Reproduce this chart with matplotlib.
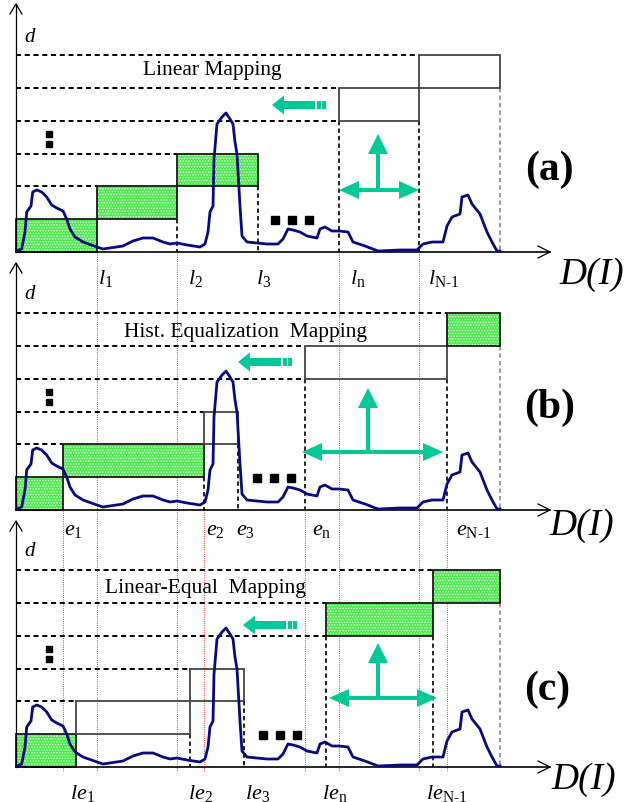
import matplotlib
matplotlib.use("Agg")
import matplotlib.pyplot as plt
from matplotlib.patches import Rectangle, FancyArrow

plt.rcParams['font.family'] = ['Liberation Serif', 'DejaVu Serif']
plt.rcParams['mathtext.fontset'] = 'custom'
plt.rcParams['mathtext.rm'] = 'Liberation Serif'
plt.rcParams['mathtext.it'] = 'Liberation Serif:italic'
plt.rcParams['mathtext.bf'] = 'Liberation Serif:bold'
plt.rcParams['hatch.linewidth'] = 0.6

# histogram curve: grey level position / height above the axis (same in all panels)
curve_x = [16.7, 21.7, 25, 26.7, 31, 32.7, 36.7, 41.7, 46.7, 51.7, 56.7, 63, 66.7, 70, 75, 83,
           97, 103, 123, 133, 143, 153, 163, 170, 177, 187, 200, 205, 208, 210, 213, 214,
           217, 222, 226, 230, 233, 235, 237, 240, 242, 247, 267, 278, 283, 288, 293, 300,
           307, 317, 320, 325, 332, 339, 348, 353, 365, 378, 400, 417, 423, 432, 443, 447,
           452, 460, 462, 468, 472, 480, 487, 492, 497, 500]
curve_h = [1, 3, 20, 40, 46, 60, 62, 60, 55, 47, 44, 41, 33, 23, 15, 10,
           5, 3, 6, 11, 14, 14, 10, 8, 9, 7, 5, 8, 20, 40, 46, 93,
           128, 135, 139, 133, 128, 110, 98, 46, 16, 10, 8, 8, 13, 23, 22, 20,
           16, 14, 23, 25, 21, 21, 20, 10, 6, 1, 2, 2, 8, 10, 10, 26,
           35, 38, 55, 57, 48, 38, 20, 10, 1, 1]

titles = ["Linear Mapping", "Hist. Equalization  Mapping", "Linear-Equal  Mapping"]
tags = ["(a)", "(b)", "(c)"]

# interval boundaries on the D(I) axis for each mapping
bounds_a = [16, 97, 177, 258, 339, 419, 500]
bounds_b = [16, 63, 204, 238, 305, 447, 500]
bounds_c = [16, 76, 190, 244, 326, 433, 500]
# G = green (active) block, O = empty block, None = skipped (ellipsis)
kinds_a = ["G", "G", "G", None, "O", "O"]
kinds_b = ["G", "G", "O", None, "O", "G"]
kinds_c = ["G", "O", "O", None, "G", "G"]

# axis labels
lab_prefix = ["l", "e", "le"]
lab_subs = ["1", "2", "3", "n", "N-1"]

# red dotted guides (from l_i and e_i)
red_a = [97, 177, 339, 419]
red_b = [63, 204, 305, 447]

# ---- layout (pixels) ----
W, H = 628, 803
base_y = [253, 511, 768]
axis_top = [5, 264, 522]
step = 32.8
title_xy = [(212, 71), (246, 333), (205, 589)]
tag_xy = [(549, 170), (550, 408), (547, 690)]
DI_xy = [(559, 284), (549, 535), (551, 789)]
lab_x = [[98, 188, 256, 350, 428],
         [64, 206, 236, 312, 456],
         [70, 188, 245, 322, 426]]
lab_base = [284, 535, 799]
dots_x0 = [275, 257, 263]
left_arrow_tip = [272, 238, 243]
left_arrow_y = [106, 363, 626]
cross_v = [(378, 191, 135), (368, 453, 389), (378, 699, 644)]
cross_h = [(339, 419, 191), (302, 443, 453), (329, 437, 699)]

teal = "#00C896"
navy = "#0A0A80"
green = "#4CEB4C"
dash = (0, (2.6, 1.9))

fig = plt.figure(figsize=(W / 100, H / 100), dpi=100)
ax = fig.add_axes([0, 0, 1, 1])
ax.set_xlim(0, W)
ax.set_ylim(H, 0)
ax.axis('off')

# red dotted guide lines
for x in red_a:
    ax.plot([x, x], [base_y[0], 773], color="red", lw=0.6, ls=(0, (1, 1.6)), zorder=1)
for x in red_b:
    ax.plot([x, x], [base_y[1], 773], color="red", lw=0.6, ls=(0, (1, 1.6)), zorder=1)

all_bounds = [bounds_a, bounds_b, bounds_c]
all_kinds = [kinds_a, kinds_b, kinds_c]

for p in range(3):
    y0 = base_y[p]
    b = all_bounds[p]
    kinds = all_kinds[p]
    lev = [y0 - k * step for k in range(7)]

    # axes with open arrow heads
    ax.plot([16, 550], [y0, y0], color="black", lw=1.2, zorder=4)
    ax.plot([538, 550, 538], [y0 - 6, y0, y0 + 6], color="black", lw=0.9, zorder=4)
    ax.plot([16, 16], [y0, axis_top[p]], color="black", lw=0.9, zorder=4)
    ax.plot([10, 16, 22], [axis_top[p] + 10, axis_top[p], axis_top[p] + 10],
            color="black", lw=0.9, zorder=4)

    # dashed level lines
    for k in range(2, 7):
        if kinds[k - 1] is not None:
            xe = b[k - 1]
        else:
            xe = b[k]
        ax.plot([16, xe], [lev[k], lev[k]], color="black", lw=1.4, ls=dash, zorder=2)

    # blocks
    for i, kd in enumerate(kinds):
        if kd is None:
            continue
        x0, x1 = b[i], b[i + 1]
        top, bot = lev[i + 1], lev[i]
        if kd == "G":
            ax.add_patch(Rectangle((x0, top), x1 - x0, bot - top, fc=green, ec="white",
                                   hatch="......", lw=0, zorder=2))
            ax.add_patch(Rectangle((x0, top), x1 - x0, bot - top, fill=False,
                                   ec="#1a1a1a", lw=1.3, zorder=3))
        else:
            ax.add_patch(Rectangle((x0, top), x1 - x0, bot - top, fill=False,
                                   ec="#444444", lw=1.3, zorder=3))
        # dashed drops to the axis
        if bot < y0 - 1:
            col = "#888888" if i == len(kinds) - 1 else "black"
            ax.plot([x1, x1], [bot, y0], color=col, lw=1.2, ls=dash, zorder=2)
            if kinds[i - 1] is None:
                ax.plot([x0, x0], [bot, y0], color="black", lw=1.2, ls=dash, zorder=2)

    # histogram curve
    ax.plot(curve_x, [y0 - h for h in curve_h], color=navy, lw=2.0, zorder=5)

    # ellipsis marks
    ax.plot([dots_x0[p], dots_x0[p] + 17, dots_x0[p] + 34], [y0 - 32] * 3, ls="none",
            marker="s", ms=5.4, color="black", zorder=5)
    ax.plot([49, 49], [y0 - 118, y0 - 108], ls="none", marker="s", ms=3.8,
            color="black", zorder=5)

    # text
    ax.text(title_xy[p][0], title_xy[p][1], titles[p], fontsize=15.5, ha="center",
            va="center", zorder=6)
    ax.text(tag_xy[p][0], tag_xy[p][1], tags[p], fontsize=30, fontweight="bold",
            ha="center", va="center", zorder=6)
    ax.text(DI_xy[p][0], DI_xy[p][1], "D(I)", fontsize=27, fontstyle="italic",
            ha="left", va="baseline", zorder=6)
    ax.text(24, y0 - 216, "d", fontsize=15, fontstyle="italic", ha="left",
            va="center", zorder=6)
    for j, s in enumerate(lab_subs):
        ax.text(lab_x[p][j], lab_base[p],
                r"$\mathit{%s}_{\text{%s}}$" % (lab_prefix[p], s),
                fontsize=16, ha="left", va="baseline", zorder=6)

    # thick left arrow with striped tail
    tx, ty = left_arrow_tip[p], left_arrow_y[p]
    ax.add_patch(FancyArrow(tx + 43, ty, -43, 0, width=8, head_width=19, head_length=12,
                            length_includes_head=True, color=teal, lw=0, zorder=6))
    ax.add_patch(Rectangle((tx + 45, ty - 4), 4, 8, color=teal, lw=0, zorder=6))
    ax.add_patch(Rectangle((tx + 50, ty - 4), 4, 8, color=teal, lw=0, zorder=6))

    # cross arrows
    vx, vy0, vy1 = cross_v[p]
    ax.add_patch(FancyArrow(vx, vy0, 0, vy1 - vy0, width=4, head_width=20, head_length=20,
                            length_includes_head=True, color=teal, lw=0, zorder=6))
    hx0, hx1, hy = cross_h[p]
    mid = (hx0 + hx1) / 2
    ax.add_patch(FancyArrow(mid, hy, hx0 - mid, 0, width=4, head_width=18, head_length=20,
                            length_includes_head=True, color=teal, lw=0, zorder=6))
    ax.add_patch(FancyArrow(mid, hy, hx1 - mid, 0, width=4, head_width=18, head_length=20,
                            length_includes_head=True, color=teal, lw=0, zorder=6))

fig.savefig("out.png", dpi=100)
